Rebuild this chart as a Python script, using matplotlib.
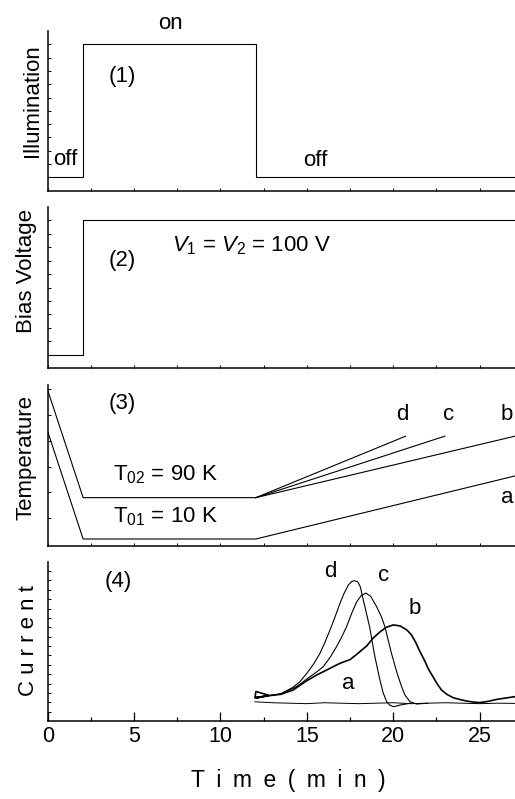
import numpy as np
import matplotlib
matplotlib.use("Agg")
import matplotlib.pyplot as plt

plt.rcParams['font.family'] = ['Liberation Sans', 'DejaVu Sans']
plt.rcParams['mathtext.fontset'] = 'custom'
plt.rcParams['mathtext.rm'] = 'Liberation Sans'
plt.rcParams['mathtext.it'] = 'Liberation Sans:italic'

# ---------------- data ----------------
# (1) illumination (arbitrary units)
illum_t = [0, 2.05, 2.05, 12.05, 12.05, 27.05]
illum_v = [1, 1, 11, 11, 1, 1]
# (2) bias voltage (arbitrary units)
bias_t = [0, 2.05, 2.05, 27.05]
bias_v = [1, 1, 11, 11]
# (3) temperature (K)
T02_t = [0, 2.05, 12.05]
T02_v = [298, 90, 90]
T01_t = [0, 2.05, 12.05, 27.05]
T01_v = [218, 10, 10, 132]
ramp_d_t = [12.05, 20.72]
ramp_d_v = [90, 209]
ramp_c_t = [12.05, 22.99]
ramp_c_v = [90, 209]
ramp_b_t = [12.05, 27.05]
ramp_b_v = [90, 209]
# (4) current (arbitrary units)
cur_a_t = [12.0, 13.0, 14.0, 15.0, 16.0, 17.0, 18.0, 19.0, 20.0, 21.0, 22.0, 23.0, 24.0, 25.0, 26.0, 27.05]
cur_a_v = [2.05, 1.95, 1.9, 1.85, 1.95, 1.9, 1.85, 1.9, 1.95, 1.85, 1.9, 1.95, 1.9, 1.85, 1.9, 1.88]
cur_b_t = [12.0, 12.05, 12.8, 12.05, 12.8, 13.5, 14.2, 14.6, 15.0, 15.57, 16.0, 16.53, 16.92, 17.5, 17.88,
           18.2, 18.46, 18.84, 19.23, 19.6, 20.0, 20.4, 20.8, 21.06, 21.3, 21.55, 21.83, 22.05, 22.3,
           22.55, 22.8, 23.1, 23.47, 23.85, 24.25, 24.6, 25.0, 25.5, 25.98, 26.5, 27.05]
cur_b_v = [2.5, 3.15, 2.75, 2.45, 2.7, 2.85, 3.3, 3.8, 4.3, 4.91, 5.3, 5.8, 6.16, 6.55, 7.1,
           7.6, 8.0, 8.85, 9.5, 10.0, 10.25, 10.15, 9.7, 9.18, 8.4, 7.4, 6.4, 5.5, 4.73,
           3.95, 3.3, 2.85, 2.49, 2.3, 2.13, 2.03, 1.96, 2.1, 2.3, 2.45, 2.6]
cur_c_t = [12.0, 12.8, 13.5, 14.4, 14.8, 15.18, 15.55, 15.95, 16.35, 16.72, 17.0, 17.3, 17.6, 17.88,
           18.15, 18.42, 18.7, 19.04, 19.3, 19.52, 19.7, 19.9, 20.1, 20.29, 20.5, 20.68, 20.97,
           21.35, 22.0]
cur_c_v = [2.55, 2.7, 2.9, 3.66, 4.2, 4.73, 5.2, 5.8, 6.8, 7.93, 8.9, 10.06, 11.5, 12.7,
           13.4, 13.65, 13.3, 12.2, 11.2, 10.06, 8.7, 7.22, 5.9, 4.73, 3.6, 2.77, 2.06,
           1.81, 1.9]
cur_d_t = [12.0, 12.8, 13.5, 14.2, 14.6, 15.0, 15.4, 15.76, 16.05, 16.34, 16.63, 16.92, 17.15, 17.4,
           17.6, 17.75, 17.95, 18.1, 18.27, 18.45, 18.65, 18.8, 18.94, 19.1, 19.23, 19.42, 19.62,
           19.8, 20.0, 20.2, 20.39, 21.0]
cur_d_v = [2.55, 2.7, 2.9, 3.6, 4.2, 5.09, 6.1, 7.22, 8.4, 9.71, 11.1, 12.56, 13.6, 14.5,
           14.9, 14.97, 14.85, 14.3, 12.9, 11.5, 9.9, 8.3, 6.86, 5.5, 4.38, 3.0, 2.06,
           1.7, 1.53, 1.6, 1.7, 1.9]

x_major = [0, 5, 10, 15, 20, 25]
x_labels = ['0', '5', '10', '15', '20', '25']

# ---------------- figure ----------------
fig = plt.figure(figsize=(5.15, 7.99), dpi=100)
L = 47.7 / 515
W = 1 - L
def box(top, bot):
    return [L, (799 - bot) / 799, W, (bot - top) / 799]

ax1 = fig.add_axes(box(31, 190.7))
ax2 = fig.add_axes(box(207, 368))
ax3 = fig.add_axes(box(385, 545.7))
ax4 = fig.add_axes(box(561.7, 721))

lw = 0.8
for ax in (ax1, ax2, ax3, ax4):
    ax.set_xlim(0, 27.05)
    ax.spines['top'].set_visible(False)
    ax.spines['right'].set_visible(False)
    ax.spines['left'].set_linewidth(1.1)
    ax.spines['bottom'].set_linewidth(1.1)
    ax.tick_params(axis='y', which='both', direction='in', length=2.5, width=0.7, labelleft=False)
    ax.set_xticks(np.arange(0, 27.1, 2.5))
    ax.tick_params(axis='x', which='major', direction='in', length=2.5, width=0.7, labelbottom=False)

# panel 1
ax1.plot(illum_t, illum_v, color='black', lw=lw)
ax1.set_ylim(0, 12)
ax1.set_yticks(np.arange(1, 12, 1))
ax1.text(7.08, 12.6, 'on', fontsize=16, ha='center', va='center')
ax1.text(4.32, 8.55, '(1)', fontsize=16, ha='center', va='center')
ax1.text(1.0, 2.36, 'off', fontsize=16, ha='center', va='center')
ax1.text(15.5, 2.3, 'off', fontsize=16, ha='center', va='center')

# panel 2
ax2.plot(bias_t, bias_v, color='black', lw=lw)
ax2.set_ylim(0, 12)
ax2.set_yticks(np.arange(1, 12, 1))
ax2.text(4.32, 8.0, '(2)', fontsize=16, ha='center', va='center')
ax2.text(7.18, 8.67, r'$V_1$ = $V_2$ = 100 V', fontsize=16, ha='left', va='baseline')

# panel 3
ax3.plot(T02_t, T02_v, color='black', lw=lw)
ax3.plot(T01_t, T01_v, color='black', lw=lw)
ax3.plot(ramp_d_t, ramp_d_v, color='black', lw=lw)
ax3.plot(ramp_c_t, ramp_c_v, color='black', lw=lw)
ax3.plot(ramp_b_t, ramp_b_v, color='black', lw=lw)
ax3.set_ylim(-3, 308)
ax3.set_yticks(np.arange(50, 301, 50))
ax3.text(4.32, 272.6, '(3)', fontsize=16, ha='center', va='center')
ax3.text(3.8, 133.8, r'T$_{02}$ = 90 K', fontsize=16, ha='left', va='center')
ax3.text(3.8, 53.1, r'T$_{01}$ = 10 K', fontsize=16, ha='left', va='center')
ax3.text(20.54, 251.3, 'd', fontsize=16, ha='center', va='center')
ax3.text(23.18, 251.3, 'c', fontsize=16, ha='center', va='center')
ax3.text(26.6, 251.3, 'b', fontsize=16, ha='center', va='center')
ax3.text(26.6, 89.9, 'a', fontsize=16, ha='center', va='center')

# panel 4
ax4.plot(cur_a_t, cur_a_v, color='black', lw=0.7)
ax4.plot(cur_d_t, cur_d_v, color='black', lw=0.8)
ax4.plot(cur_c_t, cur_c_v, color='black', lw=0.8)
ax4.plot(cur_b_t, cur_b_v, color='black', lw=1.2)
ax4.set_ylim(0, 17)
ax4.set_yticks(np.arange(1, 17, 1))
ax4.set_xticks(x_major)
ax4.set_xticklabels(x_labels)
ax4.set_xticks(np.arange(2.5, 27.1, 5), minor=True)
ax4.tick_params(axis='x', which='major', direction='in', length=6.5, width=0.9,
                labelbottom=True, labelsize=15.5, pad=3.5)
ax4.tick_params(axis='x', which='minor', direction='in', length=3.2, width=0.9)
ax4.text(4.08, 14.87, '(4)', fontsize=16, ha='center', va='center')
ax4.text(16.34, 15.93, 'd', fontsize=16, ha='center', va='center')
ax4.text(19.42, 15.57, 'c', fontsize=16, ha='center', va='center')
ax4.text(21.26, 12.0, 'b', fontsize=16, ha='center', va='center')
ax4.text(17.4, 4.02, 'a', fontsize=16, ha='center', va='center')

# axis labels
def ftext(px, py, s, **kw):
    fig.text(px / 515, 1 - py / 799, s, **kw)

ftext(33, 100.7, 'Illumination', rotation=90, ha='center', va='center', fontsize=16)
ftext(26.7, 271, 'Bias Voltage', rotation=90, ha='center', va='center', fontsize=16)
ftext(26, 457.5, 'Temperature', rotation=90, ha='center', va='center', fontsize=16)
ftext(28, 640.8, 'C u r r e n t', rotation=90, ha='center', va='center', fontsize=16)
ftext(288.7, 780.7, 'T\u2002i\u2002m\u2002e\u2002(\u2002m\u2002i\u2002n\u2002)', ha='center', va='center', fontsize=16.5)

fig.savefig('out.png', dpi=100)
